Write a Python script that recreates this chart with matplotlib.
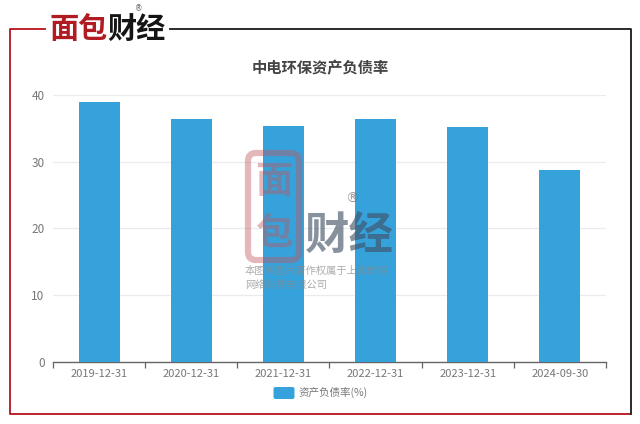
import matplotlib
matplotlib.use('Agg')
import matplotlib.pyplot as plt
from matplotlib.patches import FancyBboxPatch
from matplotlib.lines import Line2D

plt.rcParams['font.family'] = ['Noto Sans CJK SC', 'DejaVu Sans']

categories = ['2019-12-31', '2020-12-31', '2021-12-31', '2022-12-31', '2023-12-31', '2024-09-30']
debt_ratio = [39.0, 36.4, 35.4, 36.4, 35.2, 28.8]
y_ticks = [0, 10, 20, 30, 40]
title = '中电环保资产负债率'
legend_label = '资产负债率(%)'
W, H = 640, 424

fig = plt.figure(figsize=(6.4, 4.24), dpi=100, facecolor='white')
ax = fig.add_axes([53/W, 1-362/H, (606-53)/W, (362-95)/H])
ax.bar(range(6), debt_ratio, width=0.445, color='#36a2db', zorder=3)
ax.set_xlim(-0.5, 5.5)
ax.set_ylim(0, 40)
ax.set_yticks(y_ticks)
ax.set_xticks(range(6), categories)
ax.set_xticks([i-0.5 for i in range(7)], minor=True)
ax.grid(axis='y', color='#e8ecef', lw=0.9, zorder=0)
for s in ['top', 'right', 'left']:
    ax.spines[s].set_visible(False)
ax.spines['bottom'].set_color('#666666')
ax.spines['bottom'].set_linewidth(1)
ax.tick_params(axis='y', length=0, labelsize=8.5, labelcolor='#777777', pad=6)
ax.tick_params(axis='x', which='major', length=0, labelsize=8, labelcolor='#777777', pad=5)
ax.tick_params(axis='x', which='minor', length=4, color='#666666', width=0.9)

ov = fig.add_axes([0, 0, 1, 1], zorder=5)
ov.set_xlim(0, W); ov.set_ylim(H, 0); ov.axis('off'); ov.patch.set_alpha(0)

# frame
RED, BLK = '#b5121b', '#1a1a1a'
ov.add_line(Line2D([45, 9.5, 9.5, 630], [28.5, 28.5, 414, 414], color=RED, lw=1.3))
ov.add_line(Line2D([170, 630.5, 630.5], [28.5, 28.5, 414], color=BLK, lw=1.3))

# logo
ov.text(78.5, 29, '面包', color='#b01c22', fontsize=21, fontweight='bold', ha='center', va='center')
ov.text(136, 29, '财经', color='#151515', fontsize=21, fontweight='bold', ha='center', va='center')
ov.text(139, 9, '®', color='#666666', fontsize=5.5, ha='center', va='center', family='DejaVu Sans')

# title
ov.text(320, 68, title, color='#444444', fontsize=11, fontweight='bold', ha='center', va='center')

# watermark
PK = '#c0565e'
ov.add_patch(FancyBboxPatch((248, 153), 51, 107, boxstyle='round,pad=0,rounding_size=8',
                            fc='none', ec=PK, lw=4.5, alpha=0.42))
ov.text(273.5, 182, '面', color=PK, fontsize=27, fontweight='bold', ha='center', va='center', alpha=0.42)
ov.text(273.5, 233, '包', color=PK, fontsize=27, fontweight='bold', ha='center', va='center', alpha=0.42)
ov.text(349, 236, '财经', color='#3f4f63', fontsize=32, fontweight='bold', ha='center', va='center', alpha=0.62)
ov.text(352, 199, '®', color='#777777', fontsize=10, ha='center', va='center', alpha=0.7, family='DejaVu Sans')
ov.text(245, 271, '本图表图片著作权属于上海妙探', color='#888888', fontsize=7.4, ha='left', va='center', alpha=0.7)
ov.text(245, 285, '网络科技有限公司', color='#888888', fontsize=7.4, ha='left', va='center', alpha=0.7)

# legend
ov.add_patch(FancyBboxPatch((273.5, 387), 21, 12, boxstyle='round,pad=0,rounding_size=2', fc='#36a2db', ec='none'))
ov.text(299, 392.5, legend_label, color='#777777', fontsize=7.6, ha='left', va='center')

fig.savefig('out.png', dpi=100)
